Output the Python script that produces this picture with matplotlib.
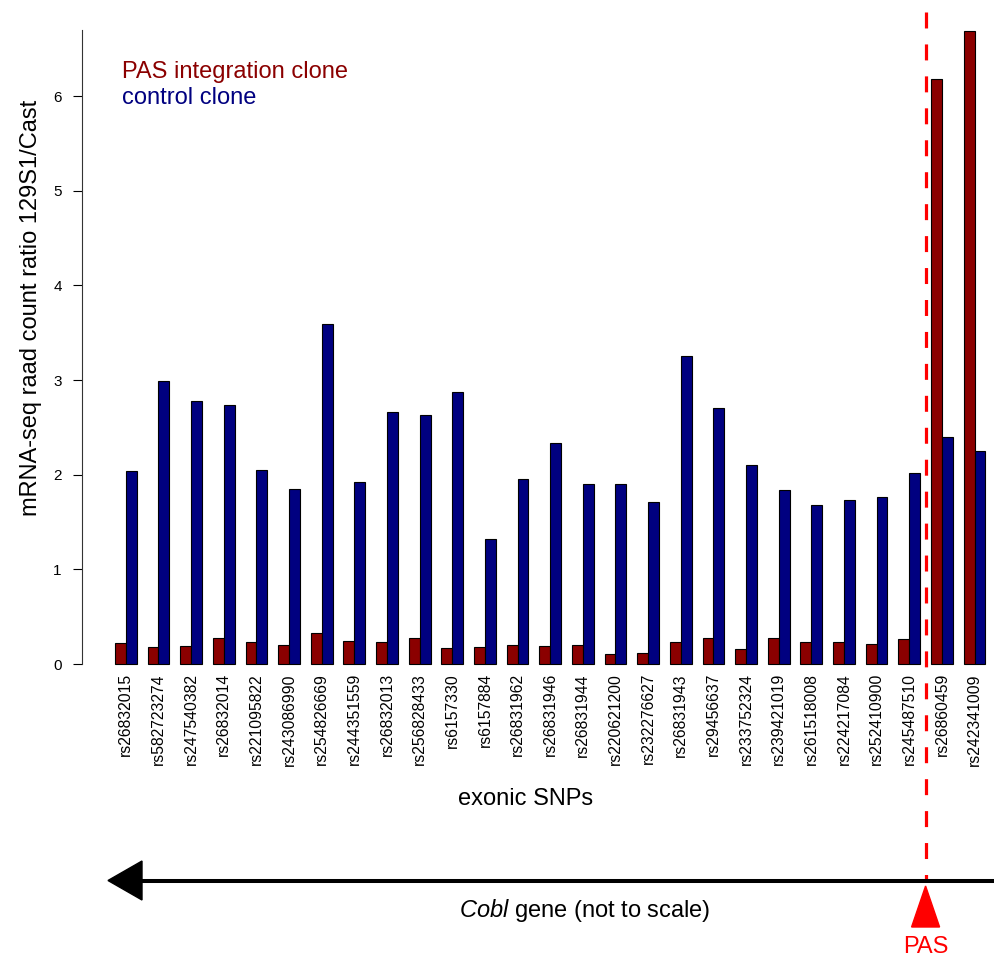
import numpy as np
import matplotlib
matplotlib.use("Agg")
import matplotlib.pyplot as plt
from matplotlib.patches import Polygon

plt.rcParams['font.family'] = ['Liberation Sans', 'DejaVu Sans']
plt.rcParams['mathtext.fontset'] = 'custom'
plt.rcParams['mathtext.rm'] = 'Liberation Sans'
plt.rcParams['mathtext.it'] = 'Liberation Sans:italic'
plt.rcParams['lines.scale_dashes'] = False

# exonic SNPs along the Cobl gene
snps = ['rs26832015', 'rs582723274', 'rs247540382', 'rs26832014', 'rs221095822',
        'rs243086990', 'rs254826669', 'rs244351559', 'rs26832013', 'rs256828433',
        'rs6157330', 'rs6157884', 'rs26831962', 'rs26831946', 'rs26831944',
        'rs220621200', 'rs232276627', 'rs26831943', 'rs29456637', 'rs233752324',
        'rs239421019', 'rs261518008', 'rs224217084', 'rs252410900', 'rs245487510',
        'rs26860459', 'rs242341009']
pas_clone = [0.22, 0.18, 0.19, 0.27, 0.23, 0.20, 0.33, 0.24, 0.23, 0.27,
             0.17, 0.18, 0.20, 0.19, 0.20, 0.11, 0.12, 0.23, 0.27, 0.16,
             0.27, 0.23, 0.23, 0.21, 0.26, 6.18, 6.69]
control_clone = [2.04, 2.99, 2.78, 2.74, 2.05, 1.85, 3.59, 1.92, 2.66, 2.63,
                 2.87, 1.32, 1.95, 2.34, 1.90, 1.90, 1.71, 3.26, 2.71, 2.10,
                 1.84, 1.68, 1.73, 1.76, 2.02, 2.40, 2.25]
pas_index = 25  # PAS sits between SNP 24 and 25

red = '#8B0000'
blue = '#000080'

W, H = 995, 959
fig = plt.figure(figsize=(W / 100, H / 100), dpi=100)
ax = fig.add_axes([82 / W, (H - 664) / H, (W - 82) / W, 634 / H])
ax.patch.set_visible(False)

n = len(snps)
x0 = np.arange(n) * 3 + 1
ax.bar(x0, pas_clone, width=1, align='edge', color=red, edgecolor='black', linewidth=0.8, clip_on=False)
ax.bar(x0 + 1, control_clone, width=1, align='edge', color=blue, edgecolor='black', linewidth=0.8, clip_on=False)

ax.set_xlim(-2.03, 81.88)
ax.set_ylim(0, 6.70)
ax.set_xticks(x0 + 1)
ax.set_xticklabels(snps, rotation=90, fontsize=11.3)
ax.tick_params(axis='x', length=0, pad=6.5)
ax.set_yticks(range(7))
ax.tick_params(axis='y', length=6.5, width=0.8, pad=8, labelsize=11)
for s in ['top', 'right', 'bottom']:
    ax.spines[s].set_visible(False)
ax.spines['left'].set_linewidth(0.8)
ax.spines['left'].set_color('#333333')

# overlay in pixel coordinates for annotations
ov = fig.add_axes([0, 0, 1, 1])
ov.set_xlim(0, W)
ov.set_ylim(H, 0)
ov.axis('off')
ov.patch.set_visible(False)

pas_x = ax.transData.transform((3 * pas_index + 0.5, 0))[0]

ov.plot([pas_x, pas_x], [12, 880], color='#FF0000', lw=2.3, linestyle=(0, (11.5, 11.5)))

# gene arrow
ov.plot([140, W], [880.5, 880.5], color='black', lw=2.9, solid_capstyle='butt')
ov.add_patch(Polygon([(108, 880.5), (142, 861), (142, 900)], closed=True, color='black'))
ov.text(585, 910, r'$\mathit{Cobl}$ gene (not to scale)', fontsize=17, ha='center', va='center')

# PAS marker
ov.add_patch(Polygon([(pas_x, 886), (pas_x - 14, 927), (pas_x + 14, 927)], closed=True, color='#FF0000'))
ov.text(pas_x, 947, 'PAS', color='#FF0000', fontsize=17, ha='center', va='center')

# legend text
ov.text(122, 72, 'PAS integration clone', color=red, fontsize=17, ha='left', va='center')
ov.text(122, 98, 'control clone', color=blue, fontsize=17, ha='left', va='center')

# axis labels
ov.text(31, 308, 'mRNA-seq raad count ratio 129S1/Cast', fontsize=17, rotation=90, ha='center', va='center')
ov.text(526, 799, 'exonic SNPs', fontsize=17, ha='center', va='center')

fig.savefig('out.png', dpi=100)
